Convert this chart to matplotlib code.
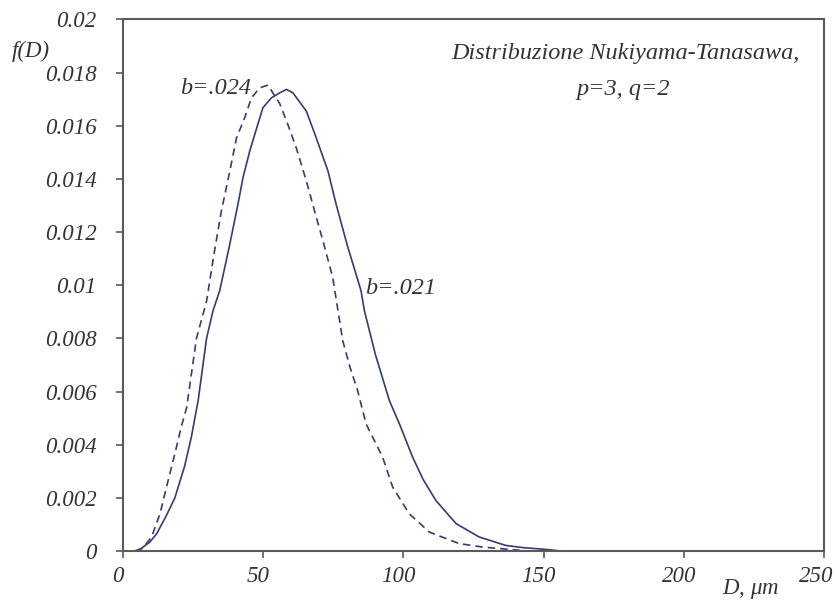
import matplotlib
matplotlib.use('Agg')
import matplotlib.pyplot as plt
import matplotlib.ticker as tick
import matplotlib.transforms as mtrans

plt.rcParams['font.family'] = 'Liberation Serif'
plt.rcParams['font.style'] = 'italic'
plt.rcParams['mathtext.fontset'] = 'custom'
plt.rcParams['mathtext.it'] = 'Liberation Serif:italic'
plt.rcParams['mathtext.rm'] = 'Liberation Serif'

# b=.021 (solid)
d_021 = [0, 5, 6.5, 9.6, 12, 15.5, 18.5, 22, 24.4, 26.8, 29.8, 32.1, 34.5, 38, 41,
         42.8, 45.2, 47, 49.9, 52.9, 55.9, 58.3, 60.6, 65.4, 68.9, 73.1, 76,
         80, 84.9, 86.1, 90, 95, 98.6, 103.3, 107, 111.6, 118.8, 127, 136.5,
         142.5, 152, 156, 200]
f_021 = [0, 0, 0.0001, 0.00034, 0.00065, 0.00134, 0.002, 0.0032, 0.0043, 0.00566,
         0.008, 0.00904, 0.0098, 0.0115, 0.01305,
         0.01405, 0.01505, 0.01568, 0.01668, 0.01705, 0.01724, 0.01737, 0.01724,
         0.01655, 0.01555, 0.0143, 0.01305, 0.0115, 0.00979, 0.00904, 0.0074,
         0.00566, 0.00478, 0.00353, 0.0027, 0.0019, 0.00103, 0.00053, 0.00021,
         0.00013, 0.00005, 0, 0]

# b=.024 (dashed)
d_024 = [0, 4, 7, 10.2, 13.2, 15.5, 18.5, 20.9, 22.7, 26.2, 29.8, 32.5, 35.1,
         38.1, 40.5, 43.4, 45.8, 48.8, 51.7, 55.9, 58.8, 61.8, 65.4, 68.3,
         71.5, 74.8, 78.4, 81, 83.7, 86.7, 92.6, 96.2, 102.1, 109.3, 119.9,
         128.2, 138.9, 145, 155]
f_024 = [0, 0, 0.0001, 0.00053, 0.0014, 0.0024, 0.00366, 0.00472, 0.0054, 0.008,
         0.0094, 0.0112, 0.0128,
         0.0143, 0.01555, 0.0163, 0.01705, 0.01743, 0.01753, 0.01683, 0.01605,
         0.01517, 0.01392, 0.0128, 0.0116, 0.01029, 0.0079, 0.0069, 0.00603,
         0.00478, 0.00353, 0.0024, 0.0014, 0.00071, 0.00028, 0.00015, 0.00005,
         0, 0]

x_ticks = [0, 50, 100, 150, 200, 250]
y_ticks = [0, 0.002, 0.004, 0.006, 0.008, 0.01, 0.012, 0.014, 0.016, 0.018, 0.02]

line_col = '#353c70'
axis_col = '#5a5a5a'
text_col = '#333333'
fs = 16.5

fig = plt.figure(figsize=(8.35, 6.03), dpi=100)
ax = fig.add_axes([0.1473, 0.0862, 0.8395, 0.8815])

ax.plot(d_021, f_021, color=line_col, lw=1.2)
ax.plot(d_024, f_024, color=line_col, lw=1.2, dashes=(4.5, 3))

ax.set_xlim(0, 250)
ax.set_ylim(0, 0.02)
ax.set_xticks(x_ticks)
ax.set_yticks(y_ticks)
ax.yaxis.set_major_formatter(tick.FuncFormatter(lambda v, p: '%g' % v))
ax.tick_params(direction='out', length=5, width=1.2, color=axis_col,
               labelsize=fs, labelcolor=text_col)
ax.tick_params(axis='y', pad=14)
ax.tick_params(axis='x', pad=6)
for s in ax.spines.values():
    s.set_color(axis_col)
    s.set_linewidth(1.5)

# italic labels sit a bit left of their ticks in the original
for i, lab in enumerate(ax.get_xticklabels()):
    dx = -8 if i == len(x_ticks) - 1 else -5
    lab.set_transform(lab.get_transform() + mtrans.ScaledTranslation(dx / 100, 0, fig.dpi_scale_trans))

fig.text(800 / 835, 1 - 53 / 603, 'Distribuzione Nukiyama-Tanasawa,',
         ha='right', va='center', fontsize=17.5, color=text_col)
fig.text(623 / 835, 1 - 90 / 603, 'p=3, q=2',
         ha='center', va='center', fontsize=17.5, color=text_col)
fig.text(180 / 835, 1 - 88 / 603, 'b=.024',
         ha='left', va='center', fontsize=17.5, color=text_col)
fig.text(365 / 835, 1 - 288 / 603, 'b=.021',
         ha='left', va='center', fontsize=17.5, color=text_col)
fig.text(12 / 835, 1 - 51 / 603, 'f(D)', ha='left', va='center', fontsize=fs, color=text_col)
fig.text(722 / 835, 1 - 589 / 603, r'$D$, $\mathrm{\mu}m$', ha='left', va='center',
         fontsize=fs, color=text_col)

fig.savefig('out.png', dpi=100)
